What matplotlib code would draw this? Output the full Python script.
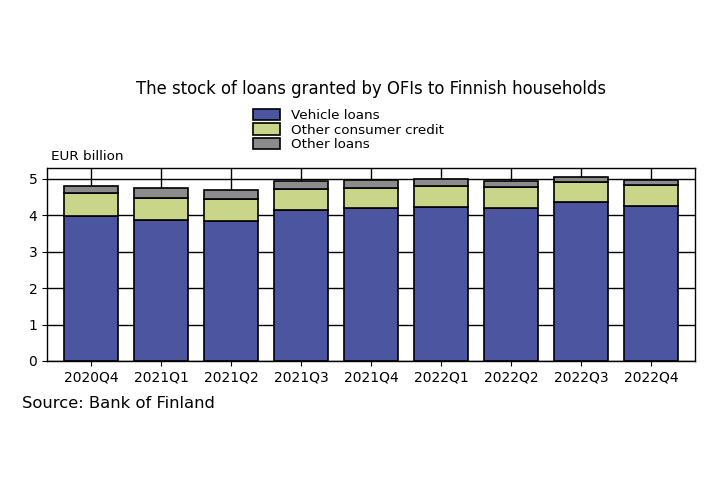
import numpy as np
import matplotlib
matplotlib.use("Agg")
import matplotlib.pyplot as plt

quarters = ["2020Q4", "2021Q1", "2021Q2", "2021Q3", "2021Q4",
            "2022Q1", "2022Q2", "2022Q3", "2022Q4"]
vehicle = [3.99, 3.87, 3.85, 4.14, 4.20, 4.23, 4.21, 4.37, 4.25]
consumer = [0.62, 0.61, 0.61, 0.59, 0.56, 0.57, 0.56, 0.55, 0.58]
other = [0.19, 0.28, 0.23, 0.22, 0.21, 0.19, 0.16, 0.14, 0.13]

fig = plt.figure(figsize=(7.2, 4.8), dpi=100)
ax = fig.add_axes([47 / 720, 1 - 361 / 480, 648 / 720, 193 / 480])

x = np.arange(len(quarters))
w = 0.76
ax.set_axisbelow(True)
ax.grid(True, color="black", linewidth=1)
ax.bar(x, vehicle, w, color="#4c55a0", edgecolor="black", linewidth=1.2, label="Vehicle loans")
ax.bar(x, consumer, w, bottom=vehicle, color="#c9d68a", edgecolor="black",
       linewidth=1.2, label="Other consumer credit")
bot = np.array(vehicle) + np.array(consumer)
ax.bar(x, other, w, bottom=bot, color="#8c8c8c", edgecolor="black",
       linewidth=1.2, label="Other loans")

ax.set_xlim(-0.63, len(quarters) - 0.37)
ax.set_ylim(0, 5.3)
ax.set_xticks(x)
ax.set_xticklabels(quarters, fontsize=10)
ax.set_yticks(range(6))
ax.tick_params(axis="y", labelsize=10)
for s in ax.spines.values():
    s.set_linewidth(1)

fig.text(371 / 720, 1 - 89 / 480, "The stock of loans granted by OFIs to Finnish households",
         ha="center", va="center", fontsize=11.9)
fig.legend(loc="center left", bbox_to_anchor=(253 / 720, 1 - 130 / 480), frameon=False,
           fontsize=9.7, handlelength=2, handleheight=0.9, labelspacing=0.08,
           borderpad=0, borderaxespad=0, handletextpad=0.8)
fig.text(51 / 720, 1 - 157 / 480, "EUR billion", ha="left", va="center", fontsize=9.7)
fig.text(22 / 720, 1 - 404 / 480, "Source: Bank of Finland", ha="left", va="center", fontsize=11.8)

fig.savefig("out.png", dpi=100)
